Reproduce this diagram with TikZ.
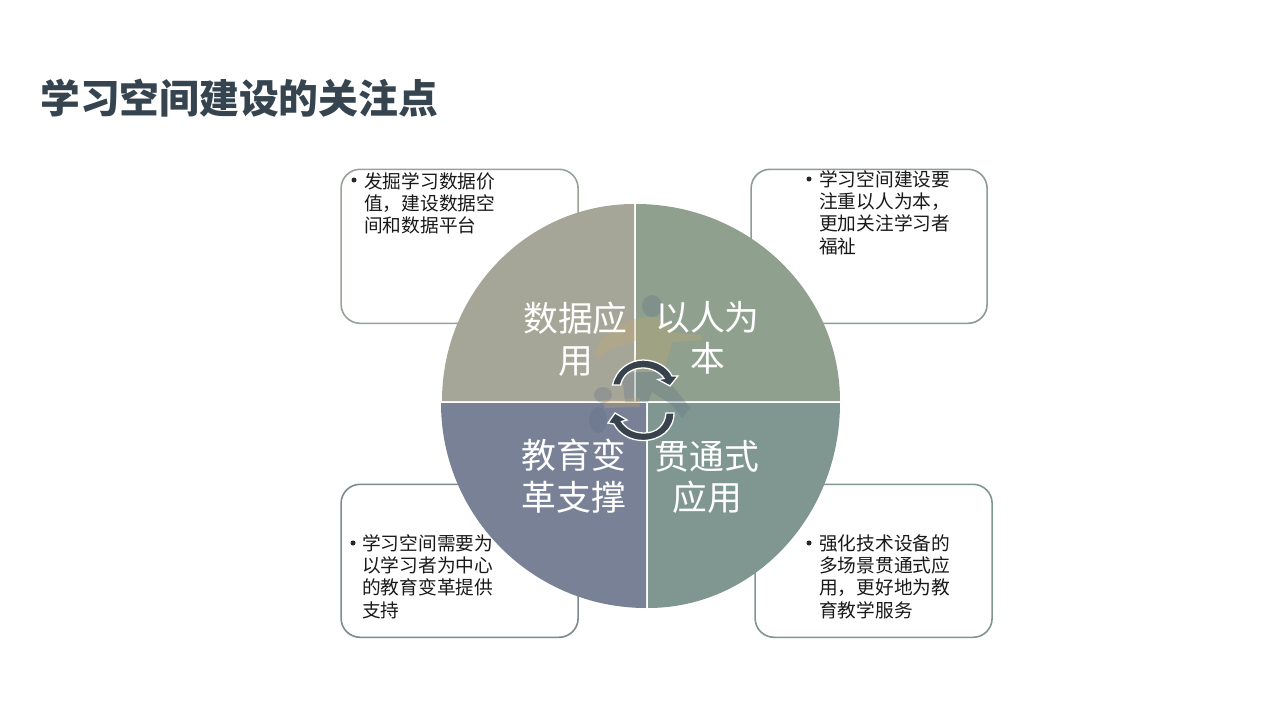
\documentclass[tikz,border=0pt]{standalone}
\usepackage{fontspec}
\setmainfont{Noto Sans CJK SC}
\definecolor{cTL}{HTML}{A6A698}
\definecolor{cTR}{HTML}{8FA08F}
\definecolor{cBL}{HTML}{788196}
\definecolor{cBR}{HTML}{7F9790}
\definecolor{eTL}{HTML}{98A398}
\definecolor{eTR}{HTML}{8F9C92}
\definecolor{eBL}{HTML}{7E8A90}
\definecolor{eBR}{HTML}{7F9790}
\definecolor{ink}{HTML}{36444F}
\definecolor{arrowdark}{HTML}{38424C}
\definecolor{figtan}{HTML}{C9A86C}
\definecolor{figblue}{HTML}{5F7088}
\tikzset{
  notebox/.style={draw=#1,line width=1.6pt,rounded corners=19pt,fill=white},
  sector/.style={fill=#1,draw=none},
  biglabel/.style={text=white,align=center,inner sep=0pt,font=\fontsize{34.8}{41.5}\selectfont},
  notetext/.style={text=black!90,align=left,anchor=north west,inner sep=0pt,font=\fontsize{18.7}{22.2}\selectfont},
  bulletmark/.style={fill=black!85,circle,inner sep=0pt,minimum size=5pt},
  figpart/.style={fill=#1,draw=none,fill opacity=.3},
  turn/.style={fill=arrowdark,draw=white,line width=1.3pt,line join=miter}
}
\begin{document}
\begin{tikzpicture}[x=1pt,y=-1pt]
\useasboundingbox (0,0) rectangle (1280,720);
\fill[white] (0,0) rectangle (1280,720);
\node[anchor=west,inner sep=0pt,text=ink,font=\fontsize{39.8}{44}\selectfont\bfseries] (title) at (40,98) {学习空间建设的关注点};

\node[notebox=eTL,minimum width=237pt,minimum height=154pt,anchor=north west,inner sep=0pt] (boxTL) at (340.3,168.5) {};
\node[notebox=eTR,minimum width=236pt,minimum height=154pt,anchor=north west,inner sep=0pt] (boxTR) at (750.3,168.5) {};
\node[notebox=eBL,minimum width=237pt,minimum height=153pt,anchor=north west,inner sep=0pt] (boxBL) at (340.3,483.5) {};
\node[notebox=eBR,minimum width=237pt,minimum height=153pt,anchor=north west,inner sep=0pt] (boxBR) at (754.3,483.5) {};

\node[bulletmark] (bTL) at (354,180) {};
\node[notetext] (tTL) at (364,172.5) {发掘学习数据价\\值，建设数据空\\间和数据平台};
\node[bulletmark] (bTR) at (809,179) {};
\node[notetext] (tTR) at (819,170.5) {学习空间建设要\\注重以人为本，\\更加关注学习者\\福祉};
\node[bulletmark] (bBL) at (353,543) {};
\node[notetext] (tBL) at (362,534.5) {学习空间需要为\\以学习者为中心\\的教育变革提供\\支持};
\node[bulletmark] (bBR) at (809,543) {};
\node[notetext] (tBR) at (819,534.5) {强化技术设备的\\多场景贯通式应\\用，更好地为教\\育教学服务};

\fill[sector=cTL] (634,401) -- (442,401) arc[start angle=180,end angle=90,x radius=192pt,y radius=197pt] -- cycle;
\fill[sector=cTR] (636,401) -- (636,204) arc[start angle=90,end angle=0,x radius=204pt,y radius=197pt] -- cycle;
\fill[sector=cBL] (646,403) -- (441,403) arc[start angle=180,end angle=270,x radius=205pt,y radius=205pt] -- cycle;
\fill[sector=cBR] (648,403) -- (648,608) arc[start angle=270,end angle=360,x radius=192pt,y radius=205pt] -- cycle;

% faint runner figure
\fill[figpart=figblue] (652,306) ellipse[x radius=10pt,y radius=11pt];
\fill[figpart=figtan] (640,318) .. controls (655,314) and (668,320) .. (672,332) -- (702,335) -- (702,340) -- (672,342) -- (664,372) -- (634,372) -- (637,340) .. controls (625,345) and (600,350) .. (598,360) -- (595,356) .. controls (598,335) and (620,322) .. (640,318) -- cycle;
\fill[figpart=figblue] (635,372) -- (660,372) -- (680,395) -- (690,408) -- (682,418) -- (672,405) -- (652,392) -- (648,402) -- (625,402) -- (622,375) -- cycle;
\fill[figpart=figblue] (603,395) ellipse[x radius=9pt,y radius=8pt];
\fill[figpart=figblue] (598,420) ellipse[x radius=9pt,y radius=13pt];
\fill[figpart=figtan] (602,400) -- (640,398) -- (640,407) -- (605,408) -- cycle;

\node[biglabel] (lTL) at (575.5,339) {数据应\\用};
\node[biglabel] (lTR) at (707.5,338) {以人为\\本};
\node[biglabel] (lBL) at (574,476) {教育变\\革支撑};
\node[biglabel] (lBR) at (707,477) {贯通式\\应用};

% circular arrows
\path[turn] (612.5,385) .. controls (616,369) and (630,360) .. (643,360)
  .. controls (656,360) and (668,367) .. (672,376) -- (678,376) -- (670,386) -- (658,379.5) -- (664,378.5)
  .. controls (660,372) and (651,368) .. (643,368) .. controls (632,368) and (623,374) .. (620.5,385) -- cycle;
\path[turn] (674,413) .. controls (674,430) and (660,440) .. (644,440.5)
  .. controls (630,441) and (618,433) .. (614,424) -- (608,423) -- (615,413) -- (627,420) -- (621.5,421.5)
  .. controls (626,429) and (635,433) .. (644,433) .. controls (657,433) and (665,425) .. (666,413) -- cycle;
\end{tikzpicture}
\end{document}
